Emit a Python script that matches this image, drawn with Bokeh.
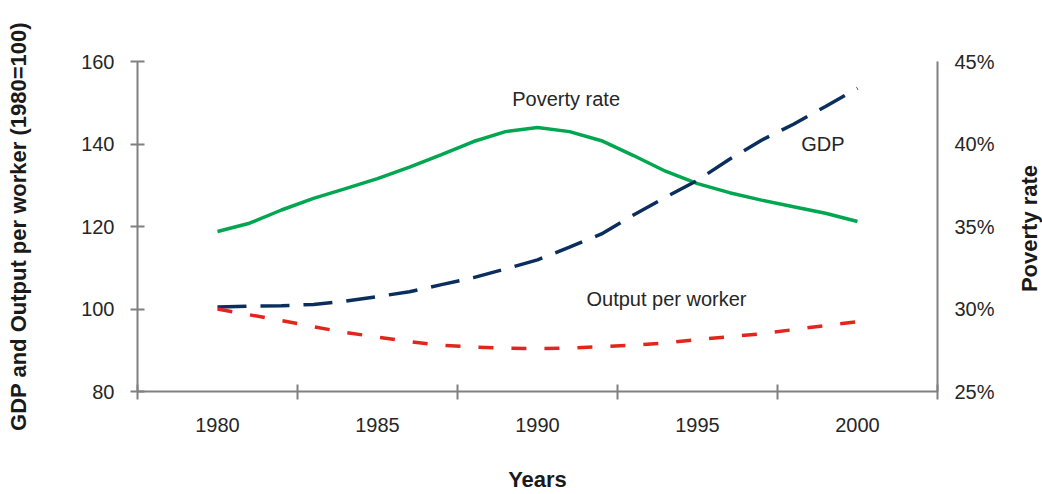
import math
from bokeh.plotting import figure
from bokeh.layouts import row
from bokeh.models import LinearAxis, Range1d, FixedTicker, PrintfTickFormatter, Label
from bokeh.embed import file_html
from bokeh.resources import INLINE

# ---- data ----
years = list(range(1980, 2001))
gdp = [100.5, 100.7, 100.8, 101.1, 101.9, 103.0, 104.2, 105.9, 107.6, 109.7, 111.9,
       115.0, 118.2, 122.8, 127.1, 131.2, 136.3, 140.9, 144.8, 149.1, 153.5]
output_per_worker = [100.0, 98.6, 97.2, 95.7, 94.3, 93.2, 92.1, 91.2, 90.8, 90.5, 90.4,
                     90.5, 90.9, 91.2, 91.8, 92.6, 93.3, 94.0, 95.0, 96.0, 96.9]
poverty_rate = [34.7, 35.2, 36.0, 36.7, 37.3, 37.9, 38.6, 39.35, 40.15, 40.75, 41.0,
                40.75, 40.2, 39.3, 38.35, 37.6, 37.05, 36.6, 36.2, 35.8, 35.3]
year_labels = [1980, 1985, 1990, 1995, 2000]
year_separators = [1977.5, 1982.5, 1987.5, 1992.5, 1997.5, 2002.5]
left_ticks = [80, 100, 120, 140, 160]
right_ticks = [25, 30, 35, 40, 45]

FONT = "Liberation Sans"
AXIS_COLOR = "#808080"
TEXT_COLOR = "#262626"
TITLE_COLOR = "#1a1a1a"

p = figure(width=1017, height=494,
           x_range=Range1d(1977.5, 2002.5), y_range=Range1d(80, 160),
           output_backend="svg", toolbar_location=None,
           min_border_left=137, min_border_right=80,
           min_border_top=61, min_border_bottom=102)
p.extra_y_ranges = {"pov": Range1d(25, 45)}
p.xgrid.visible = False
p.ygrid.visible = False
p.outline_line_color = None
p.background_fill_color = "white"
p.border_fill_color = "white"

# lines
p.line(years, poverty_rate, y_range_name="pov", line_color="#00a650", line_width=3.5)
p.line(years, gdp, line_color="#0a2f5e", line_width=3.5, line_dash="29 14")
p.line(years, output_per_worker, line_color="#e2261d", line_width=3.5, line_dash="15 18")

# x axis
xa = p.xaxis[0]
xa.ticker = FixedTicker(ticks=year_labels, minor_ticks=year_separators)
xa.axis_line_color = AXIS_COLOR
xa.axis_line_width = 2
xa.major_tick_line_color = None
xa.major_tick_in = 0
xa.major_tick_out = 0
xa.minor_tick_line_color = AXIS_COLOR
xa.minor_tick_line_width = 2
xa.minor_tick_in = 7
xa.minor_tick_out = 8
xa.major_label_text_font = FONT
xa.major_label_text_font_size = "20px"
xa.major_label_text_color = TEXT_COLOR
xa.major_label_standoff = 18
xa.axis_label = "Years"
xa.axis_label_text_font = FONT
xa.axis_label_text_font_size = "22px"
xa.axis_label_text_font_style = "bold"
xa.axis_label_text_color = TITLE_COLOR
xa.axis_label_standoff = 32

# left y axis
ya = p.yaxis[0]
ya.ticker = FixedTicker(ticks=left_ticks, minor_ticks=[])
ya.axis_line_color = AXIS_COLOR
ya.axis_line_width = 2
ya.major_tick_line_color = AXIS_COLOR
ya.major_tick_line_width = 2
ya.major_tick_in = 7
ya.major_tick_out = 7
ya.minor_tick_line_color = None
ya.major_label_text_font = FONT
ya.major_label_text_font_size = "20px"
ya.major_label_text_color = TEXT_COLOR
ya.major_label_standoff = 16
ya.axis_label = "GDP and Output per worker (1980=100)"
ya.axis_label_text_font = FONT
ya.axis_label_text_font_size = "22px"
ya.axis_label_text_font_style = "bold"
ya.axis_label_text_color = TITLE_COLOR
ya.axis_label_standoff = 47

# right y axis (tick labels only; its title sits in the narrow strip beside)
ra = LinearAxis(y_range_name="pov",
                ticker=FixedTicker(ticks=right_ticks, minor_ticks=[]),
                formatter=PrintfTickFormatter(format="%d%%"))
ra.axis_line_color = AXIS_COLOR
ra.axis_line_width = 2
ra.major_tick_line_color = None
ra.major_tick_in = 0
ra.major_tick_out = 0
ra.minor_tick_line_color = None
ra.major_label_text_font = FONT
ra.major_label_text_font_size = "20px"
ra.major_label_text_color = TEXT_COLOR
ra.major_label_standoff = 17
p.add_layout(ra, "right")

# series annotations
for txt, x, y in [("Poverty rate", 1989.21, 151.0),
                  ("GDP", 1998.24, 139.9),
                  ("Output per worker", 1991.53, 102.5)]:
    p.add_layout(Label(x=x, y=y, text=txt, text_font=FONT, text_font_size="20px",
                       text_color=TEXT_COLOR, text_baseline="middle",
                       text_align="left"))

# narrow strip holding the right axis title
strip = figure(width=25, height=494, x_range=Range1d(0, 25), y_range=Range1d(0, 494),
               output_backend="svg", toolbar_location=None,
               x_axis_location=None, y_axis_location=None,
               min_border=0, min_border_left=0, min_border_right=0,
               min_border_top=0, min_border_bottom=0)
strip.xgrid.visible = False
strip.ygrid.visible = False
strip.outline_line_color = None
strip.background_fill_color = "white"
strip.border_fill_color = "white"
strip.add_layout(Label(x=12, y=244, text="Poverty rate", text_font=FONT,
                       text_font_size="22px", text_font_style="bold",
                       text_color=TITLE_COLOR, text_align="center",
                       text_baseline="middle", angle=math.pi / 2))

layout = row(p, strip, spacing=0)
open("out.html", "w").write(file_html(layout, INLINE))
